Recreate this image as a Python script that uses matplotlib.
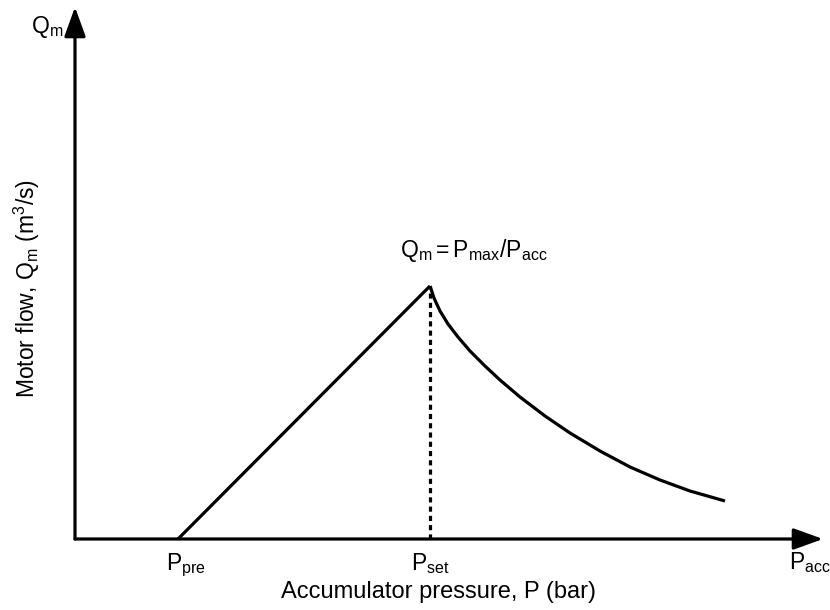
import matplotlib
matplotlib.use("Agg")
import matplotlib.pyplot as plt

plt.rcParams["font.family"] = ["Liberation Sans", "DejaVu Sans"]
plt.rcParams["mathtext.fontset"] = "custom"
plt.rcParams["mathtext.rm"] = "Liberation Sans"
plt.rcParams["mathtext.it"] = "Liberation Sans"

# accumulator pressure / motor flow (arbitrary units)
p_pre = 1.03
p_set = 3.55
q_peak = 2.53

# falling branch Qm = Pmax/Pacc
p_curve = [3.55, 3.59, 3.65, 3.73, 3.83, 3.95, 4.10, 4.25, 4.45, 4.70, 4.95, 5.25,
           5.55, 5.85, 6.15, 6.50]
q_curve = [2.53, 2.41, 2.28, 2.15, 2.02, 1.88, 1.73, 1.59, 1.42, 1.23, 1.06, 0.88,
           0.72, 0.59, 0.48, 0.38]

W, H = 830, 610
x0, y0 = 75, 539  # origin of the sketch in pixels

fig = plt.figure(figsize=(W / 100, H / 100), dpi=100)
ax = fig.add_axes([x0 / W, (H - y0) / H, (W - x0) / W, y0 / H])
ax.set_xlim(0, (W - x0) / 100)
ax.set_ylim(0, y0 / 100)
ax.axis("off")

lw = 2.3
# rising branch and falling branch
ax.plot([p_pre, p_set], [0, q_peak], color="black", lw=lw, solid_capstyle="butt")
ax.plot(p_curve, q_curve, color="black", lw=lw, solid_capstyle="butt",
        solid_joinstyle="round")
# dashed line down to P_set
ax.plot([p_set, p_set], [0, q_peak], color="black", lw=lw, ls=(0, (1.6, 1.3)))

# axes with arrows
arrow = dict(arrowstyle="-|>,head_length=1.8,head_width=0.65", color="black", lw=lw,
             shrinkA=0, shrinkB=0)
ax.annotate("", xy=((823 - x0) / (W - x0), 0), xytext=(0, 0), xycoords="axes fraction",
            textcoords="axes fraction", arrowprops=arrow)
ax.annotate("", xy=(0, (y0 - 7) / y0), xytext=(0, 0), xycoords="axes fraction",
            textcoords="axes fraction", arrowprops=arrow)

fs = 16.5
ax.annotate(r"$\mathregular{P_{pre}}$", (p_pre, 0), xytext=(6, -9),
            textcoords="offset points", ha="center", va="top", fontsize=fs)
ax.annotate(r"$\mathregular{P_{set}}$", (p_set, 0), xytext=(0, -9),
            textcoords="offset points", ha="center", va="top", fontsize=fs)
fig.text(789 / W, 1 - 550 / H, r"$\mathregular{P_{acc}}$", ha="left", va="top", fontsize=fs)
fig.text(31 / W, 1 - 27 / H, r"$\mathregular{Q_m}$", ha="left", va="center", fontsize=fs)
fig.text(474 / W, 1 - 257 / H, r"$\mathregular{Q_m = P_{max}/P_{acc}}$",
         ha="center", va="baseline", fontsize=fs)
fig.text(438 / W, 1 - 598 / H, "Accumulator pressure, P (bar)",
         ha="center", va="baseline", fontsize=17)
fig.text(27 / W, 1 - 289 / H, r"Motor flow, $\mathregular{Q_m}$ ($\mathregular{m^3}$/s)",
         ha="center", va="center", rotation=90, fontsize=fs)

fig.savefig("out.png", dpi=100)
